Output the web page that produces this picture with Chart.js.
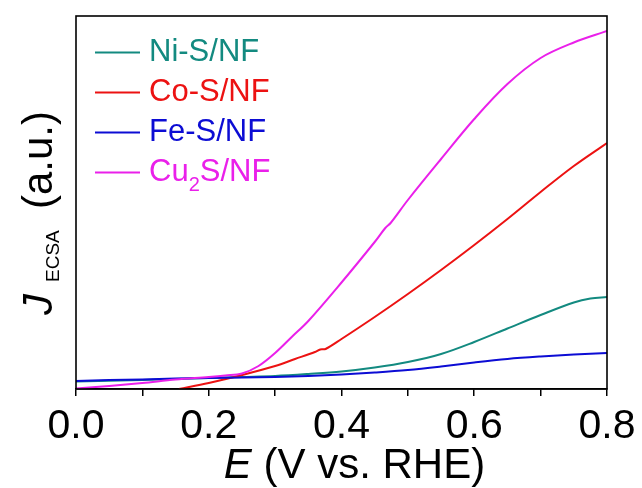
<!DOCTYPE html>
<html>
<head>
<meta charset="utf-8">
<script src="https://cdn.jsdelivr.net/npm/chart.js@4.4.1/dist/chart.umd.min.js"></script>
<style>
  html, body { margin: 0; padding: 0; background: #ffffff; }
  #wrap { width: 642px; height: 488px; }
</style>
</head>
<body>
<div id="wrap"><canvas id="c" width="642" height="488"></canvas></div>
<script>
// ---- data (E in V vs. RHE, J in arbitrary units) ----
const xTicks = [0.0, 0.2, 0.4, 0.6, 0.8];
const seriesNames = ['Ni-S/NF', 'Co-S/NF', 'Fe-S/NF', 'Cu2S/NF'];
const seriesColors = ['#138a80', '#ec1212', '#0c0cd4', '#ea20ea'];

const niE = [0, 0.1, 0.2, 0.25, 0.3, 0.35, 0.4, 0.45, 0.5, 0.55, 0.6, 0.65, 0.7, 0.75, 0.775, 0.8];
const niJ = [7.5, 9, 11, 12, 13, 15, 17.5, 21.5, 27, 35, 47, 60.5, 74, 86.5, 90.5, 92];

const coE = [0.155, 0.2, 0.25, 0.3, 0.33, 0.36, 0.368, 0.376, 0.4, 0.45, 0.5, 0.55, 0.6, 0.65, 0.7, 0.75, 0.8];
const coJ = [0, 6, 14, 23, 30, 37, 39.5, 40, 50, 72, 95, 119, 144, 170, 197, 223, 246];

const feE = [0, 0.05, 0.1, 0.15, 0.2, 0.25, 0.3, 0.35, 0.4, 0.45, 0.5, 0.55, 0.6, 0.65, 0.7, 0.75, 0.8];
const feJ = [8, 9, 9.5, 10.5, 11, 11.5, 12, 13, 14.5, 16.5, 19, 22.5, 26.5, 30, 32.5, 34.5, 36];

const cuE = [0, 0.05, 0.1, 0.15, 0.2, 0.225, 0.25, 0.275, 0.3, 0.325, 0.35, 0.4, 0.45, 0.466, 0.474, 0.5, 0.55, 0.6, 0.65, 0.7, 0.75, 0.8];
const cuJ = [0.5, 3, 6, 9.5, 12, 13.5, 15.5, 23, 36, 52, 68, 106.5, 147, 161, 166, 189, 230, 270, 305, 331, 346.5, 358];

const yMax = 373;

function pts(xs, ys) { return xs.map((x, i) => ({ x: x, y: ys[i] })); }

const FONT = '"Liberation Sans", Arial, Helvetica, sans-serif';

const frameAndText = {
  id: 'frameAndText',
  afterDraw(chart) {
    const ctx = chart.ctx;
    const a = chart.chartArea;
    ctx.save();
    // frame
    ctx.strokeStyle = '#000';
    ctx.lineWidth = 1.6;
    ctx.strokeRect(a.left, a.top, a.right - a.left, a.bottom - a.top);

    // legend
    const lx0 = 95, lx1 = 140, tx = 149;
    const base = [61, 101, 141, 181];
    chart.data.datasets.forEach((ds, i) => {
      const yb = base[i];
      ctx.strokeStyle = ds.borderColor;
      ctx.lineWidth = 2;
      ctx.beginPath();
      ctx.moveTo(lx0, yb - 8.5);
      ctx.lineTo(lx1, yb - 8.5);
      ctx.stroke();
      ctx.fillStyle = ds.borderColor;
      ctx.textBaseline = 'alphabetic';
      ctx.textAlign = 'left';
      const name = ds.label;
      const m = name.match(/^([A-Za-z]+)(\d)(.*)$/);
      ctx.font = '31px ' + FONT;
      if (m) {
        ctx.fillText(m[1], tx, yb);
        let w = ctx.measureText(m[1]).width;
        ctx.font = '20px ' + FONT;
        ctx.fillText(m[2], tx + w, yb + 10);
        w += ctx.measureText(m[2]).width;
        ctx.font = '31px ' + FONT;
        ctx.fillText(m[3], tx + w, yb);
      } else {
        ctx.fillText(name, tx, yb);
      }
    });

    // x title
    ctx.fillStyle = '#000';
    ctx.textBaseline = 'alphabetic';
    ctx.textAlign = 'left';
    const p1 = 'E', p2 = ' (V vs. RHE)';
    ctx.font = 'italic 42px ' + FONT;
    const w1 = ctx.measureText(p1).width;
    ctx.font = '42px ' + FONT;
    const w2 = ctx.measureText(p2).width;
    const cx = (a.left + a.right) / 2 + 13;
    let sx = cx - (w1 + w2) / 2;
    ctx.font = 'italic 42px ' + FONT;
    ctx.fillText(p1, sx, 478);
    ctx.font = '42px ' + FONT;
    ctx.fillText(p2, sx + w1, 478);

    // y title
    ctx.translate(52, 315);
    ctx.rotate(-Math.PI / 2);
    ctx.font = 'italic 42px ' + FONT;
    ctx.fillText('J', 0, 0);
    ctx.font = '19px ' + FONT;
    ctx.fillText('ECSA', 33, 7);
    ctx.font = '42px ' + FONT;
    ctx.fillText('(a.u.)', 106, 0);
    ctx.restore();
  }
};

const ds = [
  { label: seriesNames[0], data: pts(niE, niJ), borderColor: seriesColors[0], order: 3 },
  { label: seriesNames[1], data: pts(coE, coJ), borderColor: seriesColors[1], order: 2 },
  { label: seriesNames[2], data: pts(feE, feJ), borderColor: seriesColors[2], order: 1 },
  { label: seriesNames[3], data: pts(cuE, cuJ), borderColor: seriesColors[3], order: 0 }
].map(d => Object.assign(d, {
  borderWidth: 2, pointRadius: 0, fill: false,
  tension: 0.35, backgroundColor: d.borderColor
}));

new Chart(document.getElementById('c'), {
  type: 'line',
  data: { datasets: ds },
  options: {
    responsive: false,
    animation: false,
    devicePixelRatio: 1,
    layout: { padding: { left: 76, right: 35, top: 16, bottom: 0 } },
    plugins: { legend: { display: false }, tooltip: { enabled: false } },
    scales: {
      x: {
        type: 'linear', min: 0, max: 0.8,
        afterFit(s) { s.height = 99; },
        border: { display: true, color: '#000', width: 1.6 },
        grid: { drawOnChartArea: false, drawTicks: true, tickLength: 7, color: '#000', lineWidth: 1.5 },
        ticks: {
          stepSize: 0.1, color: '#000', padding: 6,
          font: { family: FONT, size: 41 },
          maxRotation: 0, autoSkip: false,
          callback(v) {
            const t = xTicks.find(k => Math.abs(k - v) < 1e-6);
            return t === undefined ? '' : t.toFixed(1);
          }
        }
      },
      y: {
        type: 'linear', min: 0, max: yMax, display: false
      }
    }
  },
  plugins: [frameAndText]
});
</script>
</body>
</html>
